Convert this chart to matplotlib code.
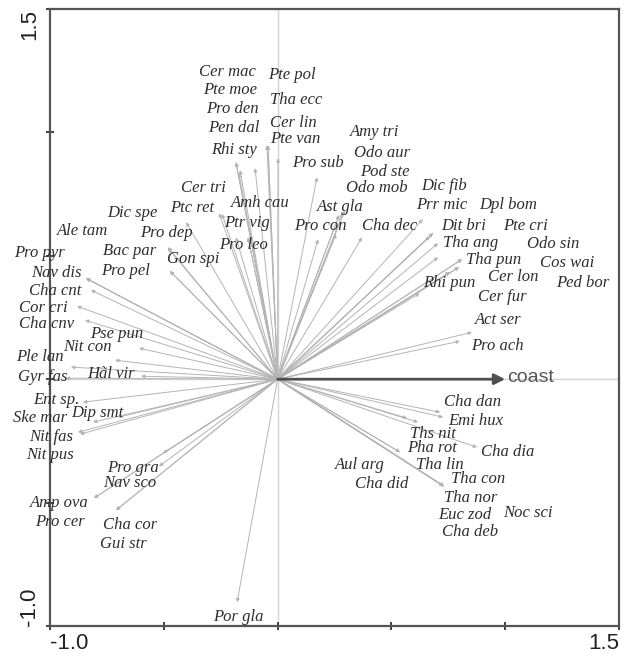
import numpy as np
import matplotlib
matplotlib.use("Agg")
import matplotlib.pyplot as plt

# species arrow tips (score on axis 1, axis 2)
species = [
    "Cer mac", "Pte moe", "Pro den", "Pen dal", "Rhi sty",
    "Pte pol", "Tha ecc", "Cer lin", "Pte van",
    "Amy tri", "Odo aur", "Pod ste", "Odo mob", "Pro sub", "Ast gla", "Pro con", "Cha dec",
    "Dic fib", "Prr mic", "Dpl bom", "Dit bri", "Pte cri", "Tha ang", "Odo sin", "Tha pun",
    "Cos wai", "Rhi pun", "Cer lon", "Ped bor", "Cer fur", "Act ser", "Pro ach",
    "Cer tri", "Ptc ret", "Amh cau", "Ptr vig", "Pro leo",
    "Dic spe", "Pro dep", "Gon spi", "Bac par", "Pro pel",
    "Ale tam", "Pro pyr", "Nav dis", "Cha cnt", "Cor cri", "Cha cnv",
    "Pse pun", "Nit con", "Ple lan", "Hãl vir", "Gyr fas",
    "Ent sp.", "Dip smt", "Ske mar", "Nit fas", "Nit pus",
    "Pro gra", "Nav sco", "Amp ova", "Pro cer", "Cha cor", "Gui str", "Por gla",
    "Cha dan", "Emi hux", "Ths nit", "Cha dia", "Pha rot", "Aul arg", "Tha lin",
    "Tha con", "Cha did", "Tha nor", "Euc zod", "Noc sci", "Cha deb",
]

ax1 = [
    -0.183, -0.165, -0.170, -0.099, -0.183,
    -0.042, -0.047, -0.042, 0.002,
    0.296, 0.270, 0.287, 0.257, 0.173, 0.270, 0.178, 0.371,
    0.638, 0.670, 0.683, 0.683, 0.705, 0.705, 0.810, 0.797,
    0.810, 0.624, 0.757, 0.797, 0.757, 0.854, 0.801,
    -0.257, -0.244, -0.130, -0.183, -0.130,
    -0.402, -0.482, -0.473, -0.482, -0.473,
    -0.842, -0.842, -0.842, -0.820, -0.881, -0.846,
    -0.609, -0.714, -0.908, -0.600, -0.930,
    -0.855, -0.811, -0.701, -0.877, -0.868,
    -0.504, -0.521, -0.807, -0.807, -0.710, -0.710, -0.178,
    0.714, 0.727, 0.569, 0.876, 0.538, 0.538, 0.617,
    0.731, 0.731, 0.731, 0.731, 0.731, 0.731,
]

ax2 = [
    0.879, 0.847, 0.835, 0.855, 0.879,
    0.948, 0.948, 0.948, 0.895,
    0.685, 0.665, 0.673, 0.588, 0.818, 0.665, 0.567, 0.575,
    0.648, 0.579, 0.592, 0.592, 0.551, 0.494, 0.486, 0.454,
    0.486, 0.348, 0.434, 0.454, 0.434, 0.190, 0.154,
    0.673, 0.669, 0.575, 0.575, 0.575,
    0.636, 0.535, 0.438, 0.531, 0.438,
    0.409, 0.409, 0.409, 0.361, 0.296, 0.239,
    0.126, 0.077, 0.049, 0.012, 0.004,
    -0.093, -0.174, -0.154, -0.215, -0.223,
    -0.300, -0.353, -0.482, -0.482, -0.531, -0.531, -0.904,
    -0.134, -0.154, -0.158, -0.276, -0.296, -0.296, -0.174,
    -0.434, -0.434, -0.434, -0.434, -0.434, -0.434,
]

# where each name is written
lab_x = [
    -0.222, -0.209, -0.200, -0.192, -0.192,
    0.063, 0.081, 0.068, 0.076,
    0.428, 0.459, 0.472, 0.437, 0.178, 0.274, 0.186, 0.494,
    0.731, 0.722, 1.012, 0.819, 1.087, 0.850, 1.210, 0.951,
    1.272, 0.753, 1.034, 1.342, 0.986, 0.968, 0.964,
    -0.327, -0.376, -0.077, -0.134, -0.148,
    -0.640, -0.490, -0.372, -0.648, -0.670,
    -0.855, -1.048, -0.974, -0.978, -1.031, -1.013,
    -0.706, -0.837, -1.044, -0.732, -1.031,
    -0.974, -0.793, -1.044, -0.996, -1.000,
    -0.635, -0.648, -0.961, -0.956, -0.648, -0.679, -0.174,
    0.858, 0.872, 0.683, 1.012, 0.679, 0.362, 0.714,
    0.880, 0.459, 0.850, 0.823, 1.100, 0.845,
]

lab_y = [
    1.244, 1.171, 1.094, 1.017, 0.928,
    1.232, 1.131, 1.037, 0.972,
    1.001, 0.916, 0.839, 0.774, 0.875, 0.697, 0.620, 0.620,
    0.782, 0.705, 0.705, 0.620, 0.620, 0.551, 0.547, 0.482,
    0.470, 0.389, 0.413, 0.389, 0.332, 0.239, 0.134,
    0.774, 0.693, 0.713, 0.632, 0.543,
    0.673, 0.592, 0.486, 0.519, 0.438,
    0.600, 0.511, 0.429, 0.357, 0.288, 0.223,
    0.182, 0.130, 0.089, 0.020, 0.008,
    -0.085, -0.138, -0.158, -0.235, -0.308,
    -0.361, -0.421, -0.502, -0.579, -0.592, -0.669, -0.964,
    -0.093, -0.170, -0.223, -0.296, -0.280, -0.348, -0.348,
    -0.405, -0.425, -0.482, -0.551, -0.543, -0.620,
]

env_name = "coast"
env_x, env_y = 1.0, 0.0

fig = plt.figure(figsize=(6.27, 6.57), dpi=100)
ax = fig.add_axes([50 / 627, 31 / 657, 569 / 627, 617 / 657])
ax.set_xlim(-1.0, 1.5)
ax.set_ylim(-1.0, 1.5)

ax.axhline(0, color="#d4d4d4", lw=1.0, zorder=0)
ax.axvline(0, color="#d4d4d4", lw=1.0, zorder=0)

for x, y in zip(ax1, ax2):
    ax.annotate("", xy=(x, y), xytext=(0, 0),
                arrowprops=dict(arrowstyle="-|>", color="#b4b4b4", lw=0.7,
                                mutation_scale=5, shrinkA=0, shrinkB=0))

for name, x, y in zip(species, lab_x, lab_y):
    ax.text(x, y, name, family="Liberation Serif", style="italic",
            fontsize=12, color="#2e2e2e", ha="center", va="center",
            clip_on=False)

ax.annotate("", xy=(env_x, env_y), xytext=(0, 0),
            arrowprops=dict(arrowstyle="-|>", color="#505050", lw=2.0,
                            mutation_scale=16, shrinkA=0, shrinkB=0))
ax.text(env_x + 0.01, env_y + 0.008, env_name, family="Liberation Sans",
        fontsize=14, color="#555555", ha="left", va="center")

for s in ax.spines.values():
    s.set_color("#555555")
    s.set_linewidth(1.6)

ticks = [-1.0, -0.5, 0.0, 0.5, 1.0, 1.5]
lbls = ["-1.0", "", "", "", "", "1.5"]
ax.set_xticks(ticks)
ax.set_xticklabels(lbls, family="Liberation Sans", fontsize=16, color="#222222")
ax.set_yticks(ticks)
ax.set_yticklabels(lbls, family="Liberation Sans", fontsize=16, color="#222222",
                   rotation=90)
ax.tick_params(direction="inout", length=6, width=1.2, color="#222222")
ax.tick_params(axis="x", pad=2)
ax.tick_params(axis="y", pad=4)

xl = ax.get_xticklabels()
xl[0].set_ha("left")
xl[-1].set_ha("right")
yl = ax.get_yticklabels()
yl[0].set_va("bottom")
yl[-1].set_va("top")

fig.savefig("out.png", dpi=100)
